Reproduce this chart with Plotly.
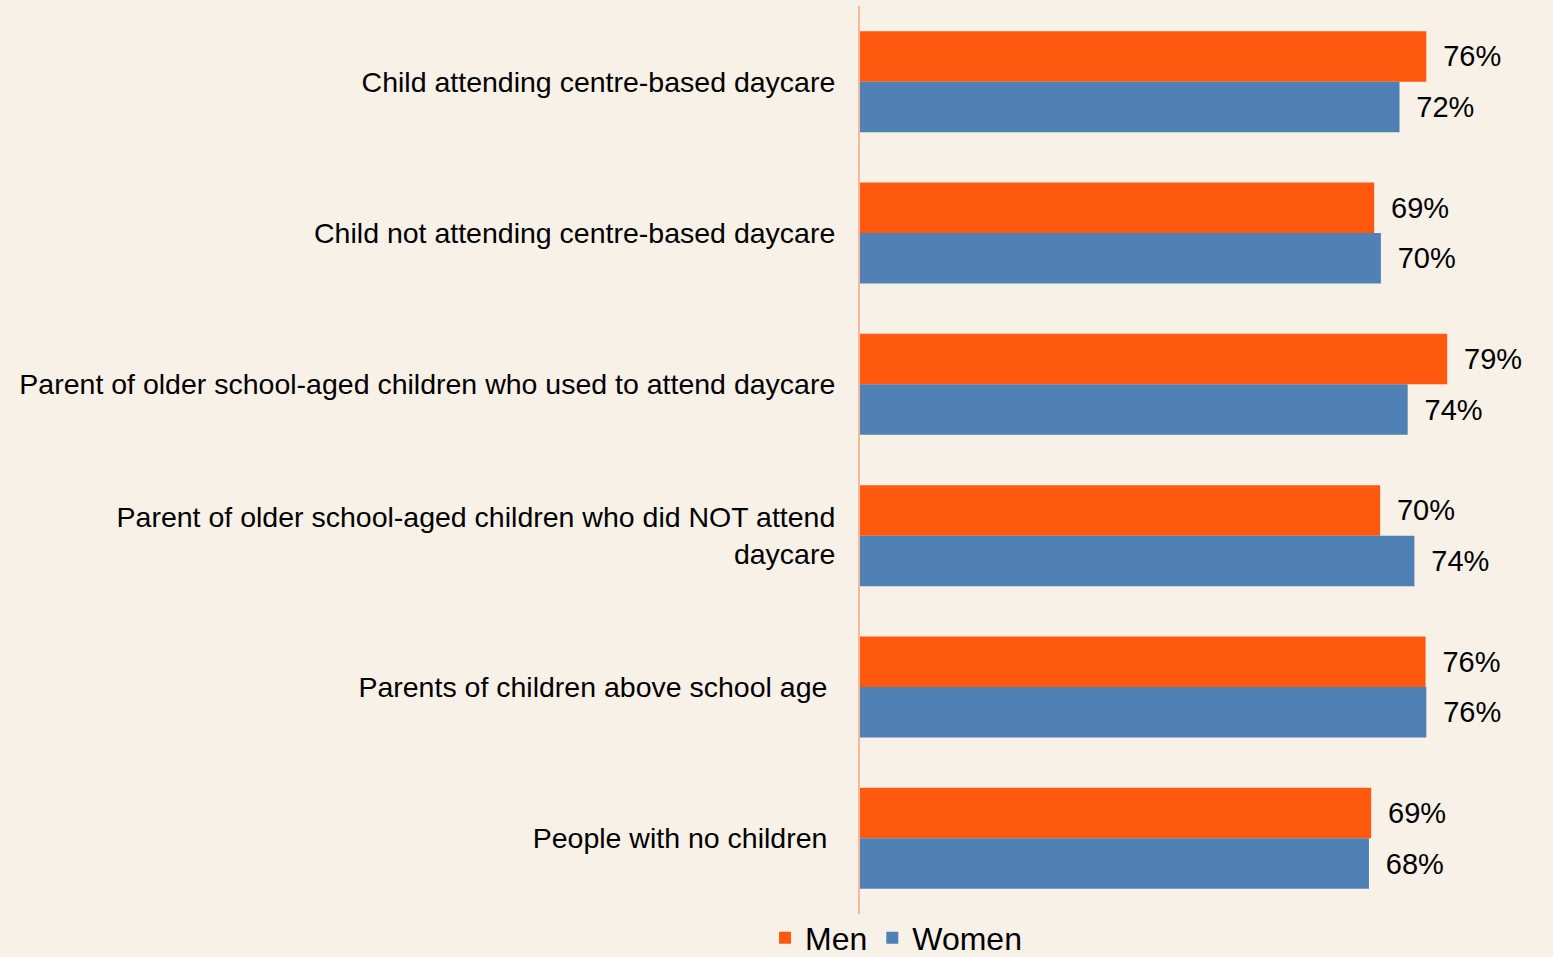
import plotly.graph_objects as go

categories = [
    "Child attending centre-based daycare",
    "Child not attending centre-based daycare",
    "Parent of older school-aged children who used to attend daycare",
    "Parent of older school-aged children who did NOT attend<br>daycare",
    "Parents of children above school age ",
    "People with no children ",
]
men = [76.0, 69.0, 78.8, 69.8, 75.9, 68.6]
women = [72.4, 69.9, 73.5, 74.4, 76.0, 68.3]

BG = "#F8F1E7"
FONT = "Liberation Sans, Arial, sans-serif"

fig = go.Figure()
for name, vals, color in [("Men", men, "#FF5910"), ("Women", women, "#4F81B5")]:
    fig.add_trace(go.Bar(
        name=name, y=categories, x=vals, orientation="h",
        marker=dict(color=color, line=dict(width=0)),
        texttemplate="\u00a0\u2009%{x:.0f}%", textposition="outside",
        textfont=dict(size=29, color="#000000", family=FONT),
        cliponaxis=False,
    ))

fig.update_layout(
    width=1553, height=957,
    paper_bgcolor=BG, plot_bgcolor=BG,
    margin=dict(l=860, r=0, t=6, b=43, autoexpand=False),
    barmode="group", bargap=0.333, bargroupgap=0,
    font=dict(family=FONT, color="#000000"),
    showlegend=True,
    legend=dict(
        orientation="h", x=0.052, xanchor="center", y=0.004, yanchor="top",
        font=dict(size=32, family=FONT, color="#000000"),
        bgcolor="rgba(0,0,0,0)", traceorder="normal",
        itemwidth=30,
    ),
    xaxis=dict(range=[0, 93.0], showgrid=False, zeroline=False,
               showticklabels=False, showline=False, fixedrange=True,
               automargin=False),
    yaxis=dict(autorange="reversed", showgrid=False, zeroline=False,
               showline=True, linecolor="#F9B89A", linewidth=2,
               ticks="", ticklabelstandoff=17, automargin=False,
               tickfont=dict(size=28.5, family=FONT, color="#000000")),
)

fig.write_html("out.html",
               config={"displayModeBar": False},
               post_script="document.body.style.margin='0';document.body.style.overflow='hidden';")
